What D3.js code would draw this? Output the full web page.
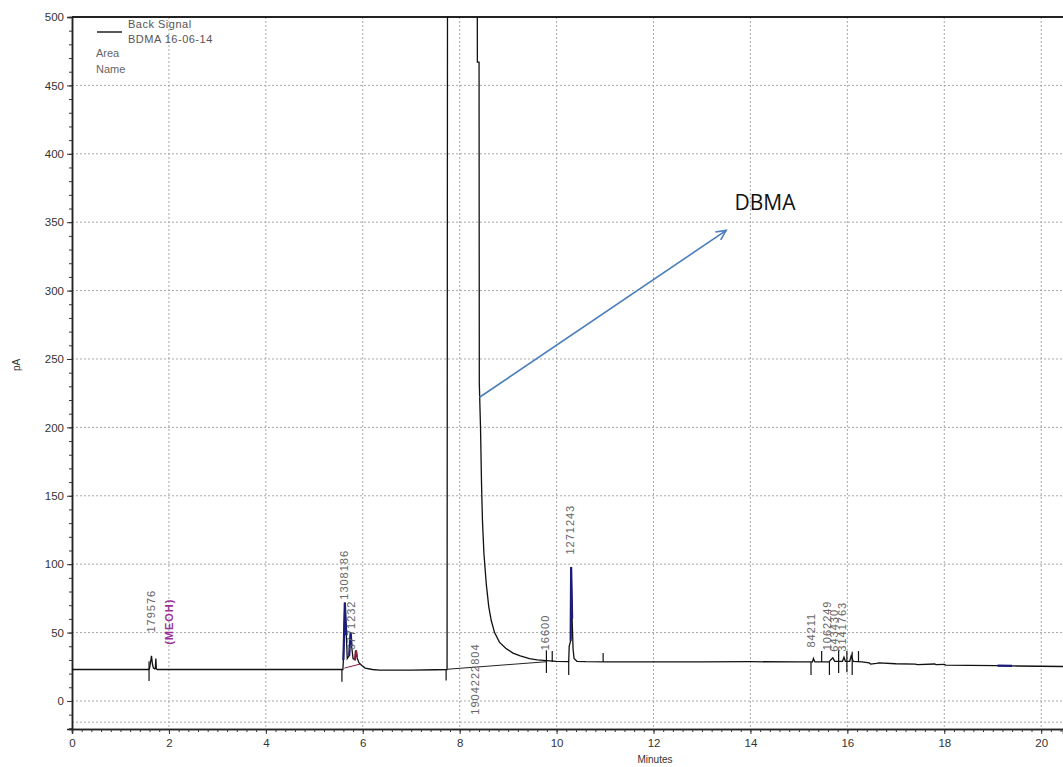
<!DOCTYPE html>
<html><head><meta charset="utf-8">
<script src="https://cdn.jsdelivr.net/npm/d3@7"></script>
<style>body{margin:0;background:#fff}svg{display:block}</style>
</head><body>
<svg id="c" width="1063" height="767"></svg>
<script>
// ---- data (minutes, pA) ----
const trace = [
  [0,23],[1.58,23],[1.60,24],[1.62,28],[1.64,33],[1.66,27],[1.68,24],[1.71,23.5],[1.72,24],[1.73,31],[1.74,23.5],[1.76,23],
  [5.55,23],[5.59,23],[5.60,30],[5.61,43],[5.63,72],[5.645,60],[5.66,48],[5.68,31],[5.72,33],[5.74,45],[5.75,50],[5.77,40],
  [5.80,31],[5.84,30],[5.86,37],[5.88,32],[5.92,28],[5.98,26],[6.05,24],[6.20,23],[6.35,22.5],[7.00,22.5],[7.50,22.8],[7.74,23],
  [7.75,600],[8.36,600],[8.365,467],[8.40,467],[8.405,232],[8.43,200],[8.45,160],[8.47,132],[8.50,108],[8.55,85],[8.60,69],
  [8.65,59],[8.72,50],[8.82,43],[8.95,38.5],[9.10,35],[9.25,33],[9.44,31],[9.60,30],[9.79,29.5],[10.00,29],[10.25,28.7],
  [10.26,40],[10.29,44],[10.30,98],[10.32,60],[10.34,38],[10.36,31],[10.42,29],
  [10.60,28.7],[11.00,28.5],[12.00,28.5],[13.00,28.5],[14.00,28.7],[15.00,28.5],[15.28,28.5],[15.30,31],[15.33,28.5],
  [15.62,28.5],[15.67,30.5],[15.70,31.5],[15.74,29],[15.90,29],[15.93,32],[15.96,29],[16.05,29],[16.08,33],[16.12,29],
  [16.30,28.5],[16.45,27.8],[16.48,27],[16.60,27.5],[16.65,27.8],[17.00,27.2],[17.40,27],[17.45,26.5],[17.80,27],[17.83,26.5],
  [18.00,26.8],[18.03,26.2],[18.50,26],[19.10,25.8],[19.40,25.6],[20.45,25.2]
];
// coloured peak segments [from, to, colour]
const peakSegments = [[5.60,5.66,"#1c1c7a"],[5.72,5.78,"#1c1c7a"],[5.84,5.90,"#8b1c3c"],[10.29,10.33,"#1c1c7a"],[19.10,19.40,"#1c1c7a"]];
// integration baselines [t0, pA0, t1, pA1, colour]
const baselines = [[7.75,23.2,9.80,28.7,"#222"],[5.62,24,5.95,27,"#8b1c3c"]];
// integration event marks [t, low pA, high pA]
const events = [[1.59,14.5,29],[5.57,14,23],[7.72,15,23],[9.79,20.5,37],[9.91,28.5,36.5],[10.25,19,28.7],[10.96,28.5,35],
  [15.25,19,28.5],[15.47,28.5,36.5],[15.63,19,28.5],[15.82,20.5,37],[15.99,21,36.5],[16.10,19,36],[16.23,28.5,36.5]];
// peak labels [t, pA (start), text, colour]
const peakLabels = [[1.62,50,"179576","#666"],[2.00,41,"(MEOH)","#9b2f9b"],[5.61,74,"1308186","#666"],[5.75,37,"6771232","#666"],
  [8.32,-10,"1904222804","#666"],[9.77,37,"16600","#666"],[10.27,107,"1271243","#666"],[15.26,39,"84211","#666"],
  [15.58,37,"1062249","#666"],[15.72,36,"643430","#666"],[15.88,36,"3141763","#666"]];
const xTicks = [0,2,4,6,8,10,12,14,16,18,20];
const yTicks = [0,50,100,150,200,250,300,350,400,450,500];
const legendLines = ["Back Signal","BDMA 16-06-14"];
const legendExtra = ["Area","Name"];
const arrowAnno = [8.41,222,13.5,344];
const annoText = [13.67,359,"DBMA"];

// ---- chart ----
const svg = d3.select("#c");
const L=72, R=1063, T=17, B=729;
const x = d3.scaleLinear().domain([0,20.45]).range([L,R]);
const y = d3.scaleLinear().domain([-20.5,500]).range([B,T]);
const font = "'Liberation Sans', Arial, sans-serif";

svg.append("defs").append("clipPath").attr("id","clip").append("rect")
  .attr("x",L).attr("y",T).attr("width",R-L).attr("height",B-T);

// grid
const grid = svg.append("g").attr("stroke","#a8a8a8").attr("stroke-dasharray","2,2").attr("stroke-width",1);
grid.selectAll("line.v").data(xTicks.filter(d=>d>0)).join("line")
  .attr("x1",d=>x(d)).attr("x2",d=>x(d)).attr("y1",T).attr("y2",B);
grid.selectAll("line.h").data(yTicks.filter(d=>d<500).concat([-15.5])).join("line")
  .attr("x1",L).attr("x2",R).attr("y1",d=>y(d)).attr("y2",d=>y(d));

// axes
svg.append("g").attr("transform",`translate(${L},0)`)
  .call(d3.axisLeft(y).tickValues(yTicks).tickSize(5).tickPadding(3));
svg.append("g").attr("transform",`translate(${L},0)`)
  .call(d3.axisLeft(y).tickValues(d3.range(-20,501,10)).tickSize(3).tickFormat(""));
svg.append("g").attr("transform",`translate(0,${B})`)
  .call(d3.axisBottom(x).tickValues(xTicks).tickSize(5).tickPadding(5));
svg.append("g").attr("transform",`translate(0,${B})`)
  .call(d3.axisBottom(x).tickValues(d3.range(0,20.45,0.2)).tickSize(3).tickFormat(""));
svg.selectAll(".domain").attr("stroke","#222").attr("stroke-width",1.5);
svg.selectAll(".tick line").attr("stroke","#333");
svg.selectAll(".tick text").attr("font-family",font).attr("font-size","11.5px").attr("fill","#333");
svg.append("line").attr("x1",L).attr("x2",R).attr("y1",T).attr("y2",T).attr("stroke","#222").attr("stroke-width",2);

svg.append("text").attr("x",655).attr("y",763).attr("text-anchor","middle")
  .attr("font-family",font).attr("font-size","10px").attr("fill","#333").text("Minutes");
svg.append("text").attr("transform","translate(20,365) rotate(-90)").attr("text-anchor","middle")
  .attr("font-family",font).attr("font-size","10px").attr("fill","#333").text("pA");

// plot content
const plot = svg.append("g").attr("clip-path","url(#clip)");
const line = d3.line().x(d=>x(d[0])).y(d=>y(d[1]));
plot.selectAll("line.base").data(baselines).join("line")
  .attr("x1",d=>x(d[0])).attr("y1",d=>y(d[1])).attr("x2",d=>x(d[2])).attr("y2",d=>y(d[3]))
  .attr("stroke",d=>d[4]).attr("stroke-width",1);
plot.append("path").datum(trace).attr("d",line).attr("fill","none").attr("stroke","#111").attr("stroke-width",1.3);
plot.selectAll("path.seg").data(peakSegments).join("path")
  .attr("d",s=>line(trace.filter(p=>p[0]>=s[0]&&p[0]<=s[1])))
  .attr("fill","none").attr("stroke",s=>s[2]).attr("stroke-width",2.2);
plot.selectAll("line.ev").data(events).join("line")
  .attr("x1",d=>x(d[0])).attr("x2",d=>x(d[0])).attr("y1",d=>y(d[1])).attr("y2",d=>y(d[2]))
  .attr("stroke","#111").attr("stroke-width",1.2);

// peak labels
svg.selectAll("text.pl").data(peakLabels).join("text")
  .attr("transform",d=>`translate(${x(d[0])},${y(d[1])}) rotate(-90)`)
  .attr("dominant-baseline","central").attr("font-family",font).attr("font-size","11px")
  .attr("letter-spacing","1px").attr("fill",d=>d[3]).attr("font-weight",d=>d[2][0]==="("?"bold":"normal")
  .text(d=>d[2]);

// legend
svg.append("line").attr("x1",97).attr("x2",122).attr("y1",32).attr("y2",32).attr("stroke","#222").attr("stroke-width",1.5);
svg.selectAll("text.lg").data(legendLines).join("text")
  .attr("x",128).attr("y",(d,i)=>28+i*15).attr("font-family",font).attr("font-size","11px")
  .attr("letter-spacing","0.5px").attr("fill","#555").text(d=>d);
svg.selectAll("text.lx").data(legendExtra).join("text")
  .attr("x",96).attr("y",(d,i)=>57+i*16).attr("font-family",font).attr("font-size","11px")
  .attr("fill","#666").text(d=>d);

// annotation arrow
const ax0=x(arrowAnno[0]), ay0=y(arrowAnno[1]), ax1=x(arrowAnno[2]), ay1=y(arrowAnno[3]);
const ang=Math.atan2(ay1-ay0, ax1-ax0), hl=11, ha=0.45;
svg.append("line").attr("x1",ax0).attr("y1",ay0).attr("x2",ax1).attr("y2",ay1)
  .attr("stroke","#4a7ebb").attr("stroke-width",1.6);
svg.append("polyline").attr("points",[
  [ax1-hl*Math.cos(ang-ha), ay1-hl*Math.sin(ang-ha)],[ax1,ay1],[ax1-hl*Math.cos(ang+ha), ay1-hl*Math.sin(ang+ha)]
].map(p=>p.join(",")).join(" ")).attr("fill","none").attr("stroke","#4a7ebb").attr("stroke-width",1.6);
svg.append("text").attr("x",x(annoText[0])).attr("y",y(annoText[1]))
  .attr("font-family","'Open Sans', 'Noto Sans', sans-serif").attr("font-size","21px").attr("fill","#111").text(annoText[2]);
</script>
</body></html>
